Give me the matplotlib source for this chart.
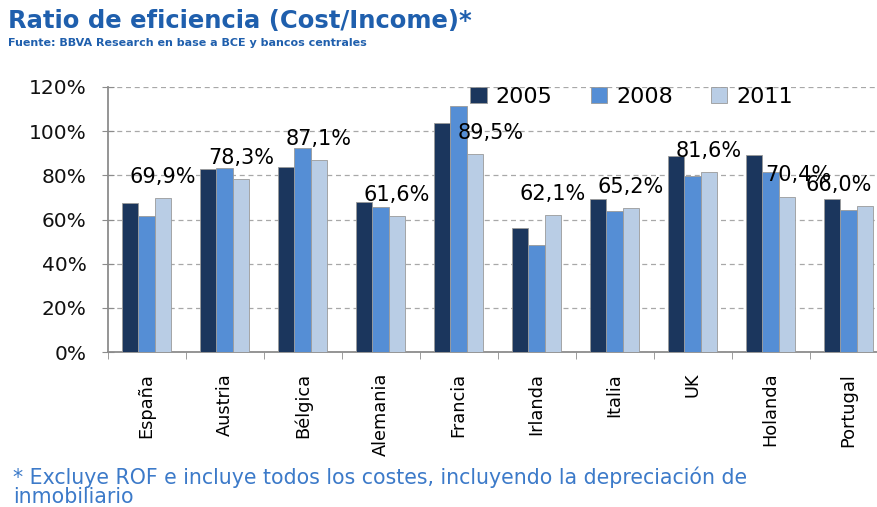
import matplotlib.pyplot as plt
import numpy as np

paises = ['España', 'Austria', 'Bélgica', 'Alemania', 'Francia',
          'Irlanda', 'Italia', 'UK', 'Holanda', 'Portugal']
r2005 = [67.3, 82.7, 83.8, 67.9, 103.9, 56.2, 69.1, 88.6, 89.1, 69.1]
r2008 = [61.5, 83.3, 92.6, 65.6, 111.5, 48.6, 63.8, 79.7, 81.5, 64.5]
r2011 = [69.9, 78.3, 87.1, 61.6, 89.5, 62.1, 65.2, 81.6, 70.4, 66.0]
etiquetas = ['69,9%', '78,3%', '87,1%', '61,6%', '89,5%',
             '62,1%', '65,2%', '81,6%', '70,4%', '66,0%']
yticks = [0, 20, 40, 60, 80, 100, 120]

# desplazamiento horizontal de algunas etiquetas (puntos)
dx = [0, 0, 0, 0, 11, 0, 0, 0, 8, -19]

c05 = '#1b365d'
c08 = '#558ed5'
c11 = '#b9cde5'
azul = '#1f5fad'

fig = plt.figure(figsize=(8.77, 5.07), dpi=100)
ax = fig.add_axes([107.6/877, 155/507, 780/877, 265/507])

x = np.arange(len(paises))
w = 0.21
borde = '#9a9a9a'
ax.bar(x - w, r2005, w, color=c05, edgecolor=borde, linewidth=0.6, label='2005', zorder=3)
ax.bar(x, r2008, w, color=c08, edgecolor=borde, linewidth=0.6, label='2008', zorder=3)
ax.bar(x + w, r2011, w, color=c11, edgecolor=borde, linewidth=0.6, label='2011', zorder=3)

for xi, v, t, d in zip(x, r2011, etiquetas, dx):
    ax.annotate(t, (xi + w, v), xytext=(d, 8), textcoords='offset points',
                ha='center', va='bottom', fontsize=15, color='black', zorder=4)

ax.set_xlim(-0.5, len(paises) - 0.5)
ax.set_ylim(0, 120)
ax.set_yticks(yticks)
ax.set_yticklabels(['%d%%' % v for v in yticks], fontsize=14.5, color='#111111')
ax.yaxis.grid(True, linestyle=(0, (4, 3)), color='#a8a8a8', linewidth=0.9, zorder=0)
ax.tick_params(axis='y', direction='inout', length=8, color='#8c8c8c', pad=11)

ax.set_xticks(x)
ax.set_xticklabels(paises, rotation=90, fontsize=12.8, va='top')
ax.tick_params(axis='x', which='major', length=0, pad=15)
ax.set_xticks(np.arange(len(paises) + 1) - 0.5, minor=True)
ax.tick_params(axis='x', which='minor', length=5, color='#8c8c8c')

for s in ['top', 'right']:
    ax.spines[s].set_visible(False)
for s in ['left', 'bottom']:
    ax.spines[s].set_color('#8c8c8c')
    ax.spines[s].set_linewidth(1.3)

ax.legend(loc='center left', bbox_to_anchor=(0.465, 1 - 10/265), ncol=3, frameon=False,
          fontsize=16, handlelength=0.75, handleheight=0.75, columnspacing=1.7,
          handletextpad=0.4, borderpad=0, borderaxespad=0)

fig.text(8/877, 1 - 21/507, 'Ratio de eficiencia (Cost/Income)*', fontsize=17.5,
         fontweight='bold', color=azul, va='center')
fig.text(8/877, 1 - 43/507, 'Fuente: BBVA Research en base a BCE y bancos centrales',
         fontsize=8, fontweight='bold', color=azul, va='center')
fig.text(13/877, 1 - 477/507, '* Excluye ROF e incluye todos los costes, incluyendo la depreciación de',
         fontsize=14.8, color='#3c7ac9', va='center')
fig.text(13/877, 1 - 497/507, 'inmobiliario',
         fontsize=14.8, color='#3c7ac9', va='center')

fig.savefig('out.png', dpi=100)
